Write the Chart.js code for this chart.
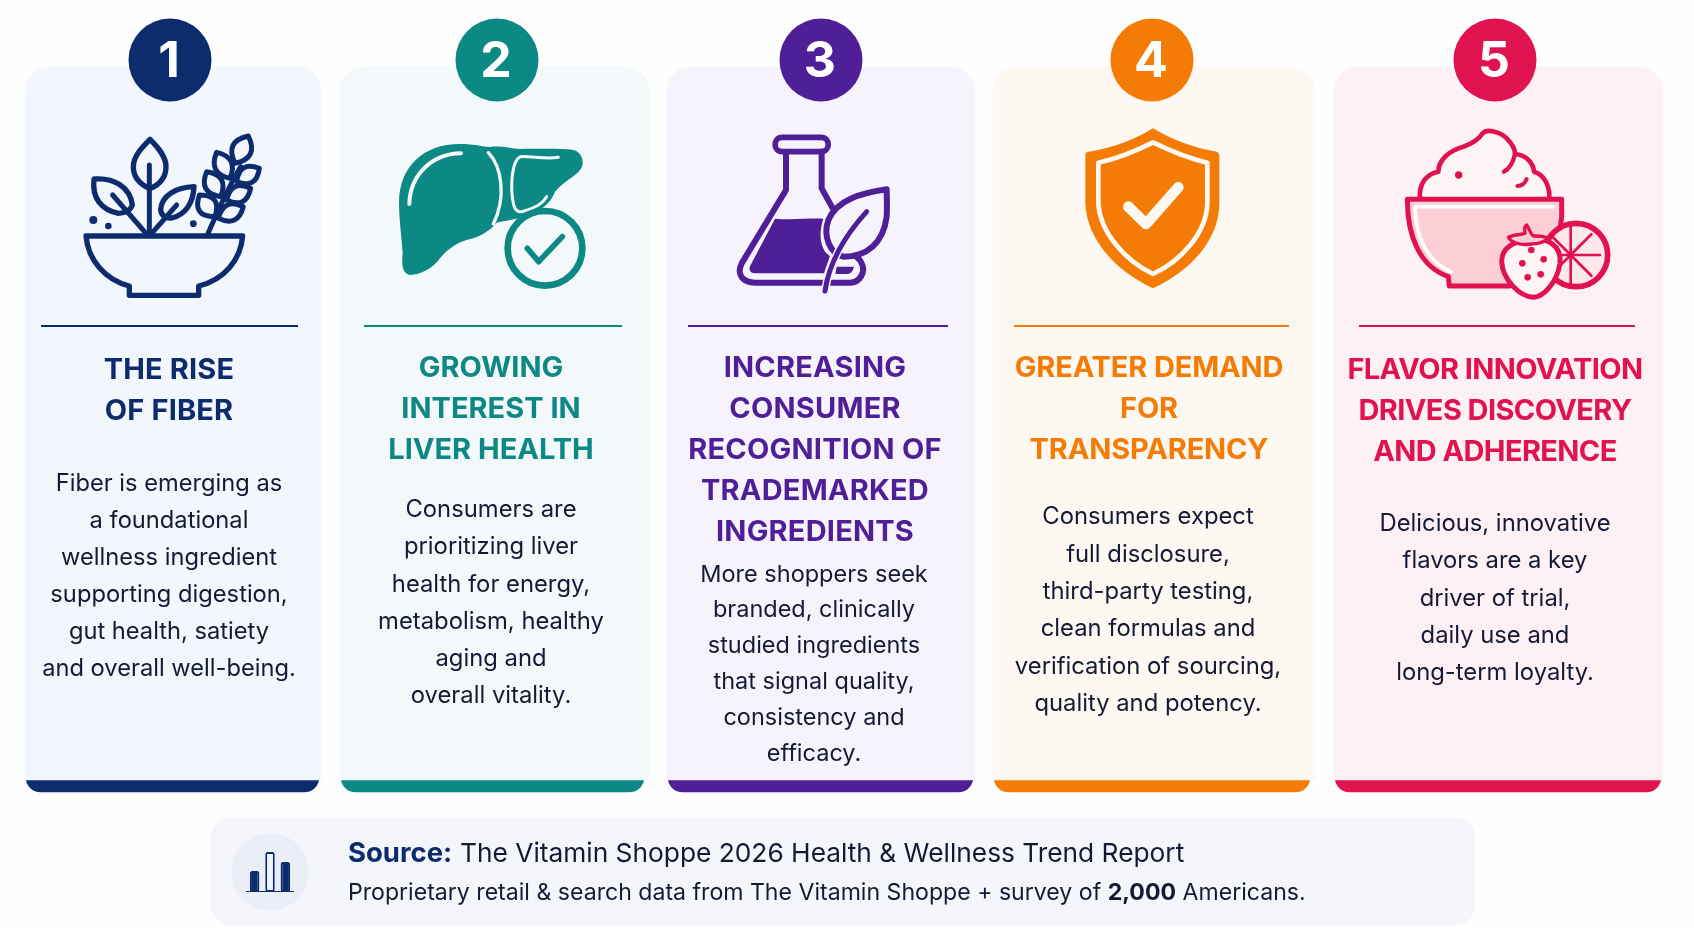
<!DOCTYPE html>
<html>
<head>
<meta charset="utf-8">
<title>Health and wellness trends</title>
<script src="https://cdn.jsdelivr.net/npm/chart.js@4"></script>
<style>
  html, body { margin: 0; padding: 0; background: #fefefe; overflow: hidden; }
  #wrap { position: relative; width: 1694px; height: 928px; }
  #board { position: absolute; left: 0; top: 0; }
  #miniWrap { position: absolute; left: 243px; top: 846px; width: 54px; height: 46px; }
</style>
</head>
<body>
<div id="wrap">
  <canvas id="board" width="1694" height="928"></canvas>
  <div id="miniWrap"><canvas id="mini" width="54" height="46"></canvas></div>
</div>
<script>
// ----------------------
// DATA
// ----------------------
const ranks = ["1", "2", "3", "4", "5"];
const titles = [
    ["THE RISE", "OF FIBER"],
    ["GROWING", "INTEREST IN", "LIVER HEALTH"],
    ["INCREASING", "CONSUMER", "RECOGNITION OF", "TRADEMARKED", "INGREDIENTS"],
    ["GREATER DEMAND", "FOR", "TRANSPARENCY"],
    ["FLAVOR INNOVATION", "DRIVES DISCOVERY", "AND ADHERENCE"]
];
const bodies = [
    ["Fiber is emerging as", "a foundational", "wellness ingredient", "supporting digestion,", "gut health, satiety", "and overall well-being."],
    ["Consumers are", "prioritizing liver", "health for energy,", "metabolism, healthy", "aging and", "overall vitality."],
    ["More shoppers seek", "branded, clinically", "studied ingredients", "that signal quality,", "consistency and", "efficacy."],
    ["Consumers expect", "full disclosure,", "third-party testing,", "clean formulas and", "verification of sourcing,", "quality and potency."],
    ["Delicious, innovative", "flavors are a key", "driver of trial,", "daily use and", "long-term loyalty."]
];
const sourceLabel = "Source:";
const sourceTitle = "The Vitamin Shoppe 2026 Health & Wellness Trend Report";
const sourceDetail = ["Proprietary retail & search data from The Vitamin Shoppe + survey of ", "2,000", " Americans."];
const miniLabels = ["a", "b", "c"];
const miniValues = [21, 40, 30];

// ----------------------
// LAYOUT + COLOURS
// ----------------------
const PAGE_W = 1694, PAGE_H = 928;
const INK = "#141a33";
const NAVY = "#0c2c6e";
const accents = [NAVY, "#0c8885", "#4f1f97", "#f47c06", "#e0124f"];
const tints = ["#f2f6fd", "#f3f8fa", "#f6f3fc", "#fef8f3", "#fef1f5"];
const cardX = [[25, 321], [340, 649], [667, 975], [993, 1315], [1334, 1663]];
const stripX = [[26, 319], [341, 644], [668, 973], [994, 1310], [1335, 1661]];
const ruleX = [[41, 298], [364, 622], [688, 948], [1014, 1289], [1359, 1635]];
const circleX = [170, 497, 821, 1152, 1495];
const titleX = [169, 491, 815, 1149, 1495];
const titleTop = [370.5, 368, 368, 368, 370.5];
const titleTrack = ["0.15px", "0px", "0.2px", "-0.15px", "-0.6px"];
const bodyX = [169, 491, 814, 1148, 1495];
const bodyTop = [484, 510, 574.5, 517, 524];
const bodyStep = [37, 37.2, 35.8, 37.4, 37.2];
const bodySize = [23.7, 23.8, 23.5, 23.8, 23.8];
const iconOrigin = [0, 330, 660, 990, 1330];

// bars + points go through the page-sized linear scales
const cardBars = cardX.map((c, i) => ({
    type: "bar",
    data: [{ x: (c[0] + c[1]) / 2, y: [67, 780] }],
    barThickness: c[1] - c[0],
    backgroundColor: tints[i],
    borderRadius: { topLeft: 24, topRight: 24, bottomLeft: 0, bottomRight: 0 },
    borderSkipped: false,
    grouped: false,
    order: 5
}));
// strips sit behind the cards so the rounded ends can be deeper than the visible part
const stripBars = stripX.map((c, i) => ({
    type: "bar",
    data: [{ x: (c[0] + c[1]) / 2, y: [750, 792] }],
    barThickness: c[1] - c[0],
    backgroundColor: accents[i],
    borderRadius: { topLeft: 0, topRight: 0, bottomLeft: 15, bottomRight: 15 },
    borderSkipped: false,
    grouped: false,
    order: 6
}));
const panelBar = {
    type: "bar",
    data: [{ x: 843, y: [818, 925] }],
    barThickness: 1264,
    backgroundColor: "#f5f6fb",
    borderRadius: 20,
    borderSkipped: false,
    grouped: false,
    order: 5
};
const rankPoints = {
    type: "scatter",
    data: circleX.map(x => ({ x: x, y: 60 })),
    pointRadius: 41.5,
    pointHoverRadius: 41.5,
    pointBorderWidth: 0,
    pointBackgroundColor: accents,
    order: 1
};
const panelPoint = {
    type: "scatter",
    data: [{ x: 270, y: 872 }],
    pointRadius: 39,
    pointBorderWidth: 0,
    pointBackgroundColor: "#ebeef6",
    order: 1
};

// ----------------------
// ICONS (drawn at 3x, in a 340px box)
// ----------------------
function leaf(ctx, ax, ay, bx, by, w) {
    const mx = (ax + bx) / 2, my = (ay + by) / 2;
    const dx = bx - ax, dy = by - ay;
    const len = Math.hypot(dx, dy);
    const nx = -dy / len * w, ny = dx / len * w;
    ctx.beginPath();
    ctx.moveTo(ax, ay);
    ctx.quadraticCurveTo(mx + nx, my + ny, bx, by);
    ctx.quadraticCurveTo(mx - nx, my - ny, ax, ay);
    ctx.closePath();
    ctx.stroke();
}

function dot(ctx, x, y, r) {
    ctx.beginPath();
    ctx.arc(x, y, r, 0, Math.PI * 2);
    ctx.fill();
}

function strokePath(ctx, d, width, color, fill) {
    const p = new Path2D(d);
    if (fill) { ctx.fillStyle = fill; ctx.fill(p); }
    if (width) {
        ctx.lineWidth = width;
        ctx.strokeStyle = color;
        ctx.stroke(p);
    }
}

function drawBowlIcon(ctx, c) {
    strokePath(ctx, "M258,708 H728 C722,780 672,840 596,858 V886 H388 V858 C316,840 264,780 258,708 Z", 16, c);
    strokePath(ctx, "M450,418 C472,440 498,468 498,500 C498,535 475,555 450,566 C425,555 400,535 400,500 C400,468 428,440 450,418 Z", 16, c);
    strokePath(ctx, "M448,495 V705", 15, c);
    strokePath(ctx, "M282,537 C340,532 390,560 397,615 C392,630 375,640 355,640 C305,630 275,595 282,537 Z", 16, c);
    strokePath(ctx, "M338,585 L438,700", 15, c);
    strokePath(ctx, "M582,560 C530,562 484,585 482,630 C484,648 498,656 515,654 C555,645 580,610 582,560 Z", 16, c);
    strokePath(ctx, "M530,615 L455,700", 15, c);
    strokePath(ctx, "M622,705 C650,640 680,570 722,500", 15, c);
    ctx.lineWidth = 15;
    ctx.strokeStyle = c;
    leaf(ctx, 705, 490, 745, 408, 58);
    leaf(ctx, 690, 535, 650, 457, 52);
    leaf(ctx, 710, 545, 778, 505, 50);
    leaf(ctx, 662, 590, 620, 515, 54);
    leaf(ctx, 680, 600, 752, 565, 50);
    leaf(ctx, 645, 650, 598, 585, 56);
    leaf(ctx, 655, 655, 730, 620, 50);
    ctx.fillStyle = c;
    dot(ctx, 280, 660, 12);
    dot(ctx, 325, 678, 10);
    dot(ctx, 580, 671, 10);
}

function drawLiverIcon(ctx, c, bg) {
    strokePath(ctx, "M207,610 C207,500 280,432 390,432 C430,432 460,440 480,441 C510,436 540,445 570,447 C620,447 690,445 730,450 C755,455 768,490 750,510 C735,530 700,545 675,575 C665,600 650,620 610,640 C580,655 540,660 500,668 C490,680 470,700 430,715 C380,725 350,750 330,775 C310,805 270,825 240,825 C215,820 215,790 218,760 C215,710 207,660 207,610 Z", 0, null, c);
    strokePath(ctx, "M238,612 C240,530 300,462 393,460", 12, bg);
    strokePath(ctx, "M475,458 C515,500 530,590 490,672", 10, bg);
    strokePath(ctx, "M685,472 C650,478 600,468 572,470 C545,480 540,560 550,610 C555,635 570,640 585,632 C610,625 640,610 650,590", 9, bg);
    ctx.beginPath();
    ctx.arc(645, 745, 112, 0, Math.PI * 2);
    ctx.fillStyle = bg;
    ctx.fill();
    ctx.lineWidth = 20;
    ctx.strokeStyle = c;
    ctx.stroke();
    strokePath(ctx, "M592,745 L626,785 L697,710", 17, c);
}

function drawFlaskIcon(ctx, c, bg) {
    strokePath(ctx, "M345,656 C390,660 440,655 490,656 C475,700 480,750 510,768 L492,820 H285 C268,820 265,805 272,795 Z", 0, null, c);
    strokePath(ctx, "M530,800 H582 C580,812 572,822 560,822 H526 Z", 0, null, c);
    strokePath(ctx, "M378,455 V570 L245,790 C228,825 250,848 285,848 H570 C600,848 618,815 605,790 C600,778 590,770 578,764", 18, c);
    strokePath(ctx, "M485,455 V565 L522,632", 18, c);
    strokePath(ctx, "M367,412 H483 C512,412 512,455 483,455 H367 C338,455 338,412 367,412 Z", 17, c);
    strokePath(ctx, "M680,568 C600,580 530,600 505,660 C488,710 510,760 550,770 C620,770 670,730 680,650 C682,620 680,590 680,568 Z", 18, c, bg);
    strokePath(ctx, "M620,635 C570,690 510,770 495,873", 24, bg);
    strokePath(ctx, "M620,635 C570,690 510,770 495,873", 15, c);
}

function drawShieldIcon(ctx, c, bg) {
    strokePath(ctx, "M489,385 C440,415 370,445 292,456 Q285,458 286,470 V610 C290,720 380,815 489,865 C600,815 688,720 688,610 V470 Q688,458 680,455 C610,445 540,415 489,385 Z", 0, null, c);
    strokePath(ctx, "M489,427 C440,452 380,476 325,488 V610 C330,700 410,785 489,822 C570,785 650,700 652,610 V488 C600,476 540,452 489,427 Z", 14, bg);
    strokePath(ctx, "M415,620 L468,672 L565,562", 32, bg);
}

function drawDessertIcon(ctx, c, bg) {
    strokePath(ctx, "M270,598 C265,550 290,522 325,515 C325,480 360,450 400,440 C430,430 445,420 458,400 C470,385 510,395 530,415 C545,430 555,445 555,462 C590,465 610,490 612,515 C645,525 660,560 658,598", 14, c, "#fef5f7");
    strokePath(ctx, "M555,462 C550,485 540,505 522,515", 13, c);
    strokePath(ctx, "M562,558 C575,558 585,550 590,537", 12, c);
    ctx.fillStyle = c;
    dot(ctx, 386, 525, 11);
    strokePath(ctx, "M232,598 H695 V650 C690,725 650,800 570,830 L540,858 H358 L355,830 C270,800 232,710 232,598 Z", 15, c, "#fbcfd5");
    strokePath(ctx, "M258,620 H672", 11, "#ffffff");
    strokePath(ctx, "M255,625 C258,720 300,790 362,815", 11, "#ffffff");
    // citrus slice
    ctx.beginPath();
    ctx.arc(738, 765, 95, 0, Math.PI * 2);
    ctx.fillStyle = "#fde9ed";
    ctx.fill();
    ctx.lineWidth = 17;
    ctx.strokeStyle = c;
    ctx.stroke();
    ctx.lineWidth = 8;
    for (let a = 0; a < 8; a++) {
        const t = a * Math.PI / 4;
        ctx.beginPath();
        ctx.moveTo(722, 765);
        ctx.lineTo(722 + Math.cos(t) * 88, 765 + Math.sin(t) * 88);
        ctx.stroke();
    }
    // strawberry
    strokePath(ctx, "M600,722 C650,710 695,735 690,790 C680,850 640,890 610,892 C570,890 518,840 515,785 C515,745 550,720 600,722 Z", 15, c, "#fff5f7");
    strokePath(ctx, "M535,712 C555,702 575,705 585,700 C585,690 580,680 590,675 C600,690 600,700 610,708 C625,708 640,706 655,716 C640,728 620,732 604,732 C585,735 550,735 535,712 Z", 10, c, "#fbcfd5");
    ctx.fillStyle = c;
    dot(ctx, 604, 750, 10);
    dot(ctx, 641, 778, 10);
    dot(ctx, 577, 790, 10);
    dot(ctx, 593, 832, 10);
    dot(ctx, 632, 823, 10);
}

const iconDrawers = [drawBowlIcon, drawLiverIcon, drawFlaskIcon, drawShieldIcon, drawDessertIcon];

// ----------------------
// TEXT + ICON PLUGIN
// ----------------------
function centeredLine(ctx, text, x, y, font, color, spacing) {
    ctx.font = font;
    ctx.fillStyle = color;
    ctx.textAlign = "center";
    ctx.textBaseline = "middle";
    ctx.letterSpacing = spacing;
    ctx.fillText(text, x, y);
}

function leftRun(ctx, text, x, y, font, color) {
    ctx.font = font;
    ctx.fillStyle = color;
    ctx.textAlign = "left";
    ctx.textBaseline = "middle";
    ctx.letterSpacing = "0px";
    ctx.fillText(text, x, y);
    return x + ctx.measureText(text).width;
}

const boardPlugin = {
    id: "board",
    afterDatasetsDraw(chart) {
        const ctx = chart.ctx;
        ranks.forEach((rank, i) => {
            // rule under icon
            ctx.fillStyle = accents[i];
            ctx.fillRect(ruleX[i][0], 325, ruleX[i][1] - ruleX[i][0], 2);

            ctx.save();
            ctx.translate(iconOrigin[i], 0);
            ctx.scale(1 / 3, 1 / 3);
            ctx.lineCap = "round";
            ctx.lineJoin = "round";
            iconDrawers[i](ctx, accents[i], tints[i]);
            ctx.restore();

            centeredLine(ctx, rank, circleX[i] - 1, 62, "700 50px Inter", "#ffffff", "0px");
            titles[i].forEach((line, n) => {
                centeredLine(ctx, line, titleX[i], titleTop[i] + n * 41, "700 29px Inter", accents[i], titleTrack[i]);
            });
            bodies[i].forEach((line, n) => {
                centeredLine(ctx, line, bodyX[i], bodyTop[i] + n * bodyStep[i], "400 " + bodySize[i] + "px Inter", INK, "0px");
            });
        });

        leftRun(ctx, sourceLabel, 348, 854, "700 27.5px Inter", NAVY);
        leftRun(ctx, sourceTitle, 460, 854, "400 26.3px Inter", INK);
        let x = leftRun(ctx, sourceDetail[0], 348, 893, "400 23.1px Inter", INK);
        x = leftRun(ctx, sourceDetail[1], x, 893, "700 23.1px Inter", INK);
        leftRun(ctx, sourceDetail[2], x, 893, "400 23.1px Inter", INK);
    }
};

// ----------------------
// CHARTS
// ----------------------
Chart.defaults.font.family = "Inter";

new Chart(document.getElementById("board"), {
    type: "bar",
    data: { datasets: [panelBar, ...cardBars, ...stripBars, rankPoints, panelPoint] },
    options: {
        responsive: false,
        animation: false,
        events: [],
        layout: { padding: 0, autoPadding: false },
        plugins: { legend: { display: false }, tooltip: { enabled: false } },
        scales: {
            x: { type: "linear", min: 0, max: PAGE_W, display: false, offset: false },
            y: { type: "linear", min: 0, max: PAGE_H, reverse: true, display: false }
        }
    },
    plugins: [boardPlugin]
});

// little bar chart inside the source badge
new Chart(document.getElementById("mini"), {
    type: "bar",
    data: {
        labels: miniLabels,
        datasets: [{
            data: miniValues,
            backgroundColor: [NAVY, "#f1f4fa", NAVY],
            borderColor: NAVY,
            borderWidth: 2,
            borderSkipped: false,
            borderRadius: 2,
            categoryPercentage: 1,
            barPercentage: 0.62
        }]
    },
    options: {
        responsive: false,
        animation: false,
        events: [],
        layout: { padding: { left: 4, right: 4, top: 6, bottom: 0 } },
        plugins: { legend: { display: false }, tooltip: { enabled: false } },
        scales: {
            x: { grid: { display: false, drawTicks: false }, ticks: { display: false }, border: { color: NAVY, width: 2 } },
            y: { display: false, min: 0, max: 40 }
        }
    }
});
</script>
</body>
</html>
